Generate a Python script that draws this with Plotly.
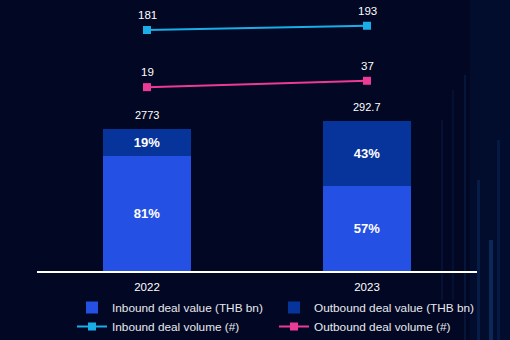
import plotly.graph_objects as go

years = ["2022", "2023"]
inbound_value = [224.6, 166.8]
outbound_value = [52.7, 125.9]
total_value = [277.3, 292.7]
total_labels = ["2773", "292.7"]
inbound_pct = ["81%", "57%"]
outbound_pct = ["19%", "43%"]
inbound_volume = [181, 193]
outbound_volume = [19, 37]

BG = "#020823"
C_IN = "#2550E4"
C_OUT = "#07349A"
C_INV = "#19AEE8"
C_OUTV = "#EC3A96"
FONT = "Liberation Sans"

fig = go.Figure()
fig.add_trace(go.Bar(
    x=years, y=inbound_value, name="Inbound deal value (THB bn)",
    marker=dict(color=C_IN, line=dict(width=0)), width=0.4,
    text=inbound_pct, textposition="inside", insidetextanchor="middle",
    textangle=0, insidetextfont=dict(color="white", size=13, family=FONT, weight="bold"),
    hoverinfo="skip"))
fig.add_trace(go.Bar(
    x=years, y=outbound_value, name="Outbound deal value (THB bn)",
    marker=dict(color=C_OUT, line=dict(width=0)), width=0.4,
    text=outbound_pct, textposition="inside", insidetextanchor="middle",
    textangle=0, insidetextfont=dict(color="white", size=13, family=FONT, weight="bold"),
    hoverinfo="skip"))
fig.add_trace(go.Scatter(
    x=years, y=inbound_volume, name="Inbound deal volume (#)", yaxis="y2",
    mode="lines+markers", line=dict(color=C_INV, width=2),
    marker=dict(symbol="square", size=8, color=C_INV), hoverinfo="skip"))
fig.add_trace(go.Scatter(
    x=years, y=outbound_volume, name="Outbound deal volume (#)", yaxis="y2",
    mode="lines+markers", line=dict(color=C_OUTV, width=2),
    marker=dict(symbol="square", size=8, color=C_OUTV), hoverinfo="skip"))

annotations = []
for i, (tv, tl) in enumerate(zip(total_value, total_labels)):
    annotations.append(dict(x=i, xref="x", y=tv, yref="y", text=tl, showarrow=False,
                            yshift=14, font=dict(color="white", size=11, family=FONT)))
for series in (inbound_volume, outbound_volume):
    for i, v in enumerate(series):
        annotations.append(dict(x=i, xref="x", y=v, yref="y2", text=str(v), showarrow=False,
                                yshift=15, font=dict(color="white", size=11.5, family=FONT)))

# decorative light streaks on the right side of the background
shapes = []
streaks = [
    (470, 510, 0, 340, "rgba(20,70,170,0.07)"),
    (441, 443, 120, 300, "rgba(40,110,220,0.10)"),
    (452, 454, 90, 300, "rgba(40,110,220,0.08)"),
    (464, 466, 75, 340, "rgba(40,120,230,0.12)"),
    (477, 480, 180, 340, "rgba(40,130,240,0.14)"),
    (489, 493, 240, 340, "rgba(50,140,250,0.22)"),
    (497, 500, 140, 340, "rgba(40,120,230,0.12)"),
]
for x0, x1, y0, y1, c in streaks:
    shapes.append(dict(type="rect", xref="paper", yref="paper",
                       x0=(x0 - 37) / 440, x1=(x1 - 37) / 440,
                       y0=(271 - y1) / 271, y1=(271 - y0) / 271,
                       fillcolor=c, line=dict(width=0), layer="below"))

fig.update_layout(
    width=510, height=340,
    margin=dict(l=37, r=33, t=0, b=69),
    paper_bgcolor=BG, plot_bgcolor=BG,
    barmode="stack", bargap=0.6,
    font=dict(family=FONT, color="white", size=11),
    xaxis=dict(type="category", range=[-0.5, 1.5], showgrid=False, zeroline=False,
               showline=True, linecolor="white", linewidth=2, ticks="",
               ticklabelstandoff=4,
               tickfont=dict(color="white", size=11.5, family=FONT)),
    yaxis=dict(range=[0, 529.3], visible=False, showgrid=False),
    yaxis2=dict(range=[-502.2, 266.0], overlaying="y", visible=False, showgrid=False),
    showlegend=True,
    legend=dict(orientation="h", xref="container", yref="container",
                x=72 / 510, xanchor="left", y=1 - 293 / 340, yanchor="top",
                entrywidth=157, entrywidthmode="pixels",
                font=dict(color="#E8E8EE", size=11.8, family=FONT),
                bgcolor="rgba(0,0,0,0)", traceorder="normal", tracegroupgap=0),
    annotations=annotations,
    shapes=shapes,
)

fig.write_html("out.html", config={"displayModeBar": False})
